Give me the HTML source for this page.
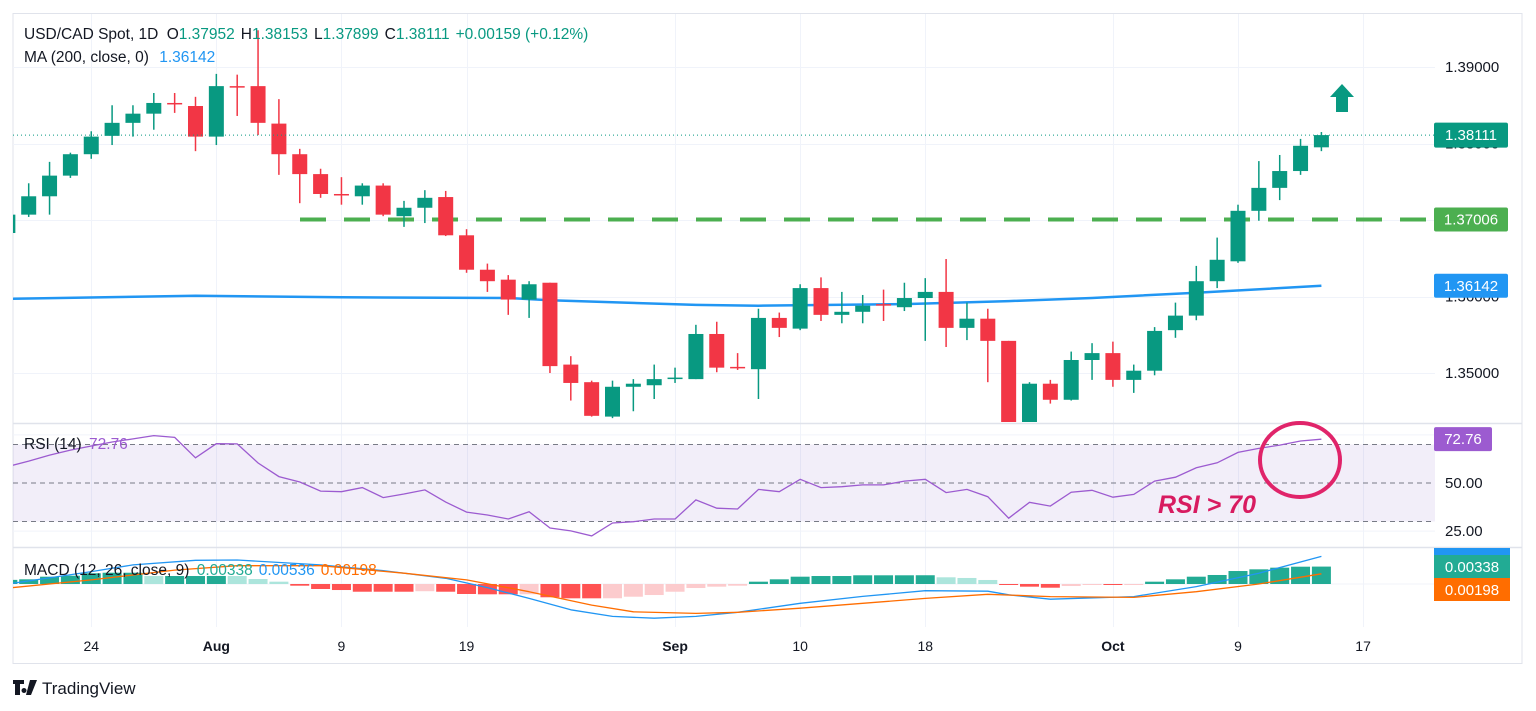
<!DOCTYPE html>
<html><head><meta charset="utf-8"><title>USD/CAD Spot</title>
<style>
html,body{margin:0;padding:0;background:#fff;}
svg{display:block;font-family:"Liberation Sans",sans-serif;}
</style></head>
<body>
<svg id="chart" width="1536" height="711" viewBox="0 0 1536 711" xmlns="http://www.w3.org/2000/svg">
<defs>
<clipPath id="mainClip"><rect x="13" y="14" width="1422" height="408"/></clipPath>
<clipPath id="rsiClip"><rect x="13" y="424" width="1422" height="123"/></clipPath>
<clipPath id="macdClip"><rect x="13" y="549" width="1422" height="78"/></clipPath>
</defs>
<rect x="13" y="13.5" width="1509" height="650" fill="#fff" stroke="#e0e3eb"/>
<g id="grid"></g>
<g id="main" clip-path="url(#mainClip)"></g>
<g id="rsi" clip-path="url(#rsiClip)"></g>
<g id="macd" clip-path="url(#macdClip)"></g>
<line x1="13" y1="423.5" x2="1522" y2="423.5" stroke="#e0e3eb" stroke-width="1.5"/>
<line x1="13" y1="547.5" x2="1522" y2="547.5" stroke="#e0e3eb" stroke-width="1.5"/>
<g id="axes"></g>
<g font-size="15.5">
<text x="24" y="39" fill="#131722">USD/CAD Spot, 1D <tspan dx="4">O</tspan><tspan fill="#089981">1.37952</tspan><tspan dx="6">H</tspan><tspan fill="#089981">1.38153</tspan><tspan dx="6">L</tspan><tspan fill="#089981">1.37899</tspan><tspan dx="6">C</tspan><tspan fill="#089981">1.38111</tspan><tspan dx="6" fill="#089981">+0.00159 (+0.12%)</tspan></text>
<text x="24" y="62" fill="#131722">MA (200, close, 0) <tspan dx="6" fill="#2196f3">1.36142</tspan></text>
<text x="24" y="449" fill="#131722">RSI (14) <tspan dx="3" fill="#9c5bd0">72.76</tspan></text>
<text x="24" y="575" fill="#131722">MACD (12, 26, close, 9) <tspan dx="3" fill="#22ab94">0.00338</tspan><tspan dx="6" fill="#2196f3">0.00536</tspan><tspan dx="6" fill="#ff6d00">0.00198</tspan></text>
</g>
<polygon points="1330,97 1342,84 1354,97 1348,97 1348,112 1336,112 1336,97" fill="#089981"/>
<ellipse cx="1300" cy="460" rx="40" ry="37" fill="none" stroke="#e0246a" stroke-width="4"/>
<text x="1158" y="513" font-size="25" font-style="italic" font-weight="bold" fill="#d81b60">RSI &gt; 70</text>
<g>
<path d="M13 680h11v4h-4v11h-5v-11h-2z M24 688a2.5 2.5 0 1 0 0.01 0z M30 680h7l-6 15h-5z" fill="#131722"/>
<text x="42" y="694" font-size="17" fill="#131722">TradingView</text>
</g>
</svg>
<script>
// Bar prices in units of 0.0001 (price x 10000)
const open =  [13683,13707,13731,13758,13786,13810,13827,13839,13853,13849,13809,13875,13875,13826,13786,13760,13734,13731,13745,13705,13716,13730,13680,13635,13622,13596,13618,13511,13488,13443,13482,13484,13493,13492,13551,13508,13505,13572,13558,13611,13576,13580,13590,13586,13598,13606,13559,13571,13542,13435,13486,13465,13517,13526,13491,13503,13556,13575,13620,13646,13712,13742,13764,13795];
const high =  [13713,13748,13776,13788,13816,13850,13850,13866,13866,13861,13891,13890,13948,13858,13793,13767,13756,13748,13748,13725,13739,13738,13688,13643,13628,13620,13618,13522,13490,13490,13492,13511,13507,13563,13567,13526,13584,13579,13616,13625,13606,13602,13609,13618,13624,13649,13592,13584,13542,13488,13491,13528,13539,13541,13511,13560,13592,13640,13677,13720,13777,13785,13806,13815];
const low =   [13680,13704,13707,13755,13780,13798,13809,13818,13840,13790,13798,13836,13811,13759,13722,13729,13720,13720,13705,13691,13696,13679,13631,13606,13576,13572,13500,13464,13443,13441,13450,13466,13487,13492,13501,13504,13466,13547,13556,13568,13565,13565,13568,13581,13542,13534,13543,13488,13426,13433,13460,13464,13491,13482,13474,13497,13546,13569,13611,13644,13699,13726,13759,13790];
const close = [13707,13731,13758,13786,13809,13827,13839,13853,13852,13809,13875,13874,13827,13786,13760,13734,13733,13745,13707,13716,13729,13680,13635,13620,13596,13616,13509,13487,13444,13482,13486,13492,13494,13551,13507,13507,13572,13559,13611,13576,13580,13588,13589,13598,13606,13559,13571,13542,13435,13486,13465,13517,13526,13491,13503,13555,13575,13620,13648,13712,13742,13764,13797,13811];
// 200 MA sampled at bar indices
const maIdx = [0,9,16,24,26,33,36,43,48,52,57,63];
const maVal = [13597,13601,13599,13598,13595,13589,13588,13590,13594,13598,13605,13614];
const rsiVal = [58.5,61.4,64.5,67.1,69.2,71.3,72.9,74.6,73.7,63.1,70.4,70.3,60.4,53.3,50.5,45.8,45.5,47.6,42.4,44.3,46.4,40.1,34.9,33.4,31.3,35.1,26.6,25.1,22.5,29.2,29.9,31.3,31.3,41.2,36.9,36.5,46.7,45.5,51.9,47.6,48.1,49,49,51,51.9,45,46.7,42.9,31.7,40,38,45.2,46.2,42.6,44.1,51,53,57.9,60.5,65.9,68,69.7,71.8,72.76];
// MACD in units of 0.001
const histVal = [0.8,0.91,1.42,1.61,2.08,2.19,2.19,1.55,1.55,1.55,1.56,1.55,0.97,0.45,-0.33,-0.97,-1.17,-1.5,-1.5,-1.5,-1.4,-1.5,-1.94,-2.0,-2.0,-1.99,-2.58,-2.78,-2.78,-2.77,-2.47,-2.14,-1.5,-0.78,-0.52,-0.33,0.45,0.91,1.42,1.55,1.55,1.69,1.69,1.69,1.7,1.3,1.17,0.78,-0.19,-0.52,-0.72,-0.39,-0.19,-0.19,-0.1,0.45,0.91,1.42,1.75,2.52,2.85,3.17,3.36,3.38];
const macdIdx = [0,4,6,9,11,15,18,21,23,25,27,29,31,33,35,38,41,44,47,48,50,54,57,60,63];
const macdVal = [0,2.4,3.7,4.6,4.66,3.7,2.6,1.1,-0.7,-2.8,-5.0,-6.3,-6.65,-6.3,-5.5,-3.75,-2.4,-1.3,-1.4,-2.1,-2.95,-2.45,-0.5,2.1,5.36];
const sigIdx = [0,4,8,11,15,19,22,25,28,30,33,35,38,41,44,47,50,54,57,60,63];
const sigVal = [-0.8,0.8,2.7,3.55,3.55,2.1,0.8,-1.5,-4.1,-5.4,-5.7,-5.5,-4.7,-3.75,-2.8,-2.0,-2.45,-2.6,-1.5,0,1.98];
const timeIdx = [4,10,16,22,32,38,44,53,59,65];
const timeLabels = ["24","Aug","9","19","Sep","10","18","Oct","9","17"];
const timeBold = [false,true,false,false,true,false,false,true,false,false];
const priceTicks = [13900,13800,13700,13600,13500];
const priceTickLabels = ["1.39000","1.38000","1.37000","1.36000","1.35000"];
const rsiTicks = [50,25];
const rsiTickLabels = ["50.00","25.00"];
const supportLevel = 13700.6;

const NS = "http://www.w3.org/2000/svg";
const xOf = i => 7.85 + 20.85 * i;
const yP = p => 67 + (13900 - p) * 0.765;
const yR = v => 483 - (v - 50) * 1.925;
const yM = v => 584 - v * 5.15;
function mk(tag, attrs, parent) {
  const e = document.createElementNS(NS, tag);
  for (const k in attrs) e.setAttribute(k, attrs[k]);
  parent.appendChild(e);
  return e;
}
const grid = document.getElementById('grid');
const main = document.getElementById('main');
const rsi = document.getElementById('rsi');
const macd = document.getElementById('macd');
const axes = document.getElementById('axes');

timeIdx.forEach((ti, k) => {
  const x = Math.round(xOf(ti)) + 0.5;
  const l = mk('line', {x1: x, y1: 14, x2: x, y2: 627, stroke: '#f0f3fa', 'stroke-width': 1}, grid);
  
  
  const t = mk('text', {x: xOf(ti), y: 651, 'text-anchor': 'middle', 'font-size': 14, fill: '#131722', 'font-weight': timeBold[k] ? 'bold' : 'normal'}, axes);
  t.textContent = timeLabels[k];
  
  
});
priceTicks.forEach((p, k) => {
  const y = Math.round(yP(p)) + 0.5;
  const l = mk('line', {x1: 13, y1: y, x2: 1435, y2: y, stroke: '#f0f3fa', 'stroke-width': 1}, grid);
  
  
  const t = mk('text', {x: 1445, y: yP(p) + 5, 'font-size': 15, fill: '#131722'}, axes);
  t.textContent = priceTickLabels[k];
  
  
});
[75, 25].forEach(v => {
  const l = mk('line', {x1: 13, y1: yR(v), x2: 1435, y2: yR(v), stroke: '#f0f3fa'}, grid);
  
  
});
{
  const l = mk('line', {x1: 13, y1: yM(0), x2: 1435, y2: yM(0), stroke: '#f0f3fa'}, grid);
  
  
}

{
  const y = yP(supportLevel);
  const l = mk('line', {x1: 300, y1: y, x2: 1435, y2: y, stroke: '#4caf50', 'stroke-width': 4, 'stroke-dasharray': '26 18'}, main);
  
  
}
{
  const d = maIdx.map((ix, k) => (k ? 'L' : 'M') + xOf(ix).toFixed(1) + ' ' + yP(maVal[k]).toFixed(1)).join(' ');
  const p = mk('path', {d: d, fill: 'none', stroke: '#2196f3', 'stroke-width': 2.5, 'stroke-linejoin': 'round'}, main);
  
  
}
close.forEach((c, i) => {
  const o = open[i];
  const up = c >= o;
  const col = up ? '#089981' : '#f23645';
  const x = xOf(i);
  const g = mk('g', {}, main);
  
  
  mk('line', {x1: x, y1: yP(high[i]), x2: x, y2: yP(low[i]), stroke: col, 'stroke-width': 1.5}, g);
  const top = yP(Math.max(o, c)), bot = yP(Math.min(o, c));
  mk('rect', {x: x - 7.5, y: top, width: 15, height: Math.max(bot - top, 1.5), fill: col}, g);
});
{
  const y = yP(close[close.length - 1]);
  const l = mk('line', {x1: 13, y1: y, x2: 1435, y2: y, stroke: '#089981', 'stroke-width': 1, 'stroke-dasharray': '1 3'}, main);
  
  
}
function axisBox(y, h, w, color, label, name) {
  const g = mk('g', {}, axes);
  
  
  mk('rect', {x: 1434, y: y - h / 2, width: w, height: h, rx: 2, fill: color}, g);
  const t = mk('text', {x: 1434 + w / 2, y: y + 5, 'text-anchor': 'middle', 'font-size': 15, fill: '#fff'}, g);
  t.textContent = label;
}
axisBox(yP(close[close.length - 1]), 25, 74, '#089981', '1.38111', 'last-price-label');
axisBox(yP(supportLevel), 24, 74, '#4caf50', '1.37006', 'support-price-label');
axisBox(yP(maVal[maVal.length - 1]), 24, 74, '#2196f3', '1.36142', 'ma-price-label');

{
  const b = mk('rect', {x: 13, y: yR(70), width: 1422, height: yR(30) - yR(70), fill: '#7e57c2', 'fill-opacity': 0.1}, rsi);
  
  
  [70, 50, 30].forEach(v => {
    const l = mk('line', {x1: 13, y1: yR(v), x2: 1435, y2: yR(v), stroke: '#787b86', 'stroke-dasharray': '5 4'}, rsi);
    
    
  });
  const d = rsiVal.map((v, i) => (i ? 'L' : 'M') + xOf(i).toFixed(1) + ' ' + yR(v).toFixed(1)).join(' ');
  const p = mk('path', {d: d, fill: 'none', stroke: '#9c5bd0', 'stroke-width': 1.3}, rsi);
  
  
  rsiTicks.forEach((v, k) => {
    const t = mk('text', {x: 1445, y: yR(v) + 5, 'font-size': 15, fill: '#131722'}, axes);
    t.textContent = rsiTickLabels[k];
    
    
  });
  const g = mk('g', {}, axes);
  
  
  const yv = yR(rsiVal[rsiVal.length - 1]);
  mk('rect', {x: 1434, y: yv - 12, width: 58, height: 24, rx: 2, fill: '#9c5bd0'}, g);
  const t = mk('text', {x: 1463, y: yv + 5, 'text-anchor': 'middle', 'font-size': 15, fill: '#fff'}, g);
  t.textContent = '72.76';
}

histVal.forEach((v, i) => {
  const prev = i ? histVal[i - 1] : v;
  let col;
  if (v >= 0) col = v >= prev ? '#22ab94' : '#ace5dc';
  else col = v <= prev ? '#ff5252' : '#fccbcd';
  const y0 = yM(0), y1 = yM(v);
  const r = mk('rect', {x: xOf(i) - 9.5, y: Math.min(y0, y1), width: 19, height: Math.max(Math.abs(y1 - y0), 1), fill: col}, macd);
  
  
});
{
  const d1 = macdIdx.map((ix, k) => (k ? 'L' : 'M') + xOf(ix).toFixed(1) + ' ' + yM(macdVal[k]).toFixed(1)).join(' ');
  const p1 = mk('path', {d: d1, fill: 'none', stroke: '#2196f3', 'stroke-width': 1.3, 'stroke-linejoin': 'round'}, macd);
  
  
  const d2 = sigIdx.map((ix, k) => (k ? 'L' : 'M') + xOf(ix).toFixed(1) + ' ' + yM(sigVal[k]).toFixed(1)).join(' ');
  const p2 = mk('path', {d: d2, fill: 'none', stroke: '#ff6d00', 'stroke-width': 1.3, 'stroke-linejoin': 'round'}, macd);
  
  
}
{
  const g = mk('g', {}, axes);
  
  
  mk('rect', {x: 1434, y: 548, width: 76, height: 8, fill: '#2196f3'}, g);
  mk('rect', {x: 1434, y: 555, width: 76, height: 23, fill: '#22ab94'}, g);
  mk('rect', {x: 1434, y: 578, width: 76, height: 23, fill: '#ff6d00'}, g);
  const t1 = mk('text', {x: 1472, y: 572, 'text-anchor': 'middle', 'font-size': 15, fill: '#fff'}, g);
  t1.textContent = '0.00338';
  const t2 = mk('text', {x: 1472, y: 595, 'text-anchor': 'middle', 'font-size': 15, fill: '#fff'}, g);
  t2.textContent = '0.00198';
}
</script>
</body></html>
